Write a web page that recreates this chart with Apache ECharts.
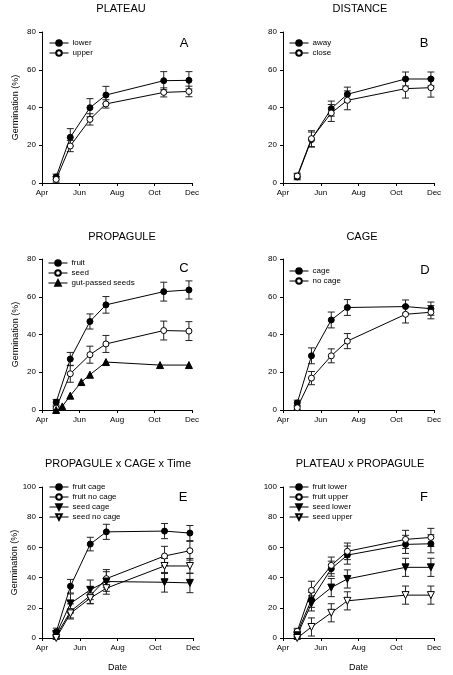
<!DOCTYPE html>
<html><head><meta charset="utf-8">
<script src="https://cdn.jsdelivr.net/npm/echarts@6/dist/echarts.min.js"></script>
<style>html,body{margin:0;padding:0;background:#fff}#c{width:453px;height:675px}</style>
</head><body><div id="c"></div>
<script>
// x positions: days since 1 April
const monthLabels = ['Apr', 'Jun', 'Aug', 'Oct', 'Dec'];
const days = [23, 46, 78, 104, 198, 239];
const gutDays = [23, 33, 46, 64, 78, 104, 192, 239];

// A: PLATEAU
const plateauLower = [3.2, 24.2, 39.9, 46.6, 54.2, 54.4];
const plateauLowerErr = [1.5, 4.6, 4.8, 4.6, 4.8, 4.6];
const plateauUpper = [1.9, 19.6, 33.7, 41.9, 48.0, 48.5];
const plateauUpperErr = [1.5, 3.0, 3.0, 2.2, 2.4, 2.8];
// B: DISTANCE
const distAway = [3.2, 23.0, 39.4, 47.0, 55.1, 55.1];
const distAwayErr = [1.5, 4.0, 4.0, 3.8, 3.7, 3.7];
const distClose = [3.7, 23.5, 37.1, 43.8, 50.0, 50.5];
const distCloseErr = [1.5, 4.2, 4.5, 5.0, 5.0, 5.0];
// C: PROPAGULE
const propFruit = [4.1, 27.0, 46.9, 55.7, 62.7, 63.6];
const propFruitErr = [1.5, 3.5, 4.0, 4.4, 5.0, 4.8];
const propSeed = [1.0, 19.2, 29.3, 35.0, 42.1, 41.8];
const propSeedErr = [1.0, 4.5, 4.5, 4.5, 5.0, 5.0];
const propGut = [0, 1.9, 7.6, 14.8, 18.7, 25.4, 23.8, 23.8];
// D: CAGE
const cageYes = [3.7, 28.7, 47.7, 54.3, 54.8, 53.7];
const cageYesErr = [1.5, 4.2, 4.2, 4.2, 3.5, 3.5];
const cageNo = [1.2, 16.9, 28.7, 36.5, 50.7, 51.8];
const cageNoErr = [1.0, 3.5, 3.7, 4.0, 4.6, 3.5];
// E: PROPAGULE x CAGE x Time
const eFruitCage = [4.0, 34.3, 62.2, 70.3, 70.8, 69.5];
const eFruitCageErr = [2.5, 4.5, 4.5, 5.0, 5.0, 5.0];
const eFruitNoCage = [1.5, 17.6, 28.1, 39.3, 54.3, 57.8];
const eFruitNoCageErr = [2.0, 5.0, 5.5, 6.0, 6.4, 6.2];
const eSeedCage = [2.6, 22.9, 31.9, 37.4, 36.9, 36.5];
const eSeedCageErr = [2.0, 6.3, 6.5, 6.5, 6.5, 6.5];
const eSeedNoCage = [0, 16.3, 26.4, 33.0, 47.7, 47.7];
const eSeedNoCageErr = [1.0, 3.0, 3.5, 4.0, 5.0, 5.0];
// F: PLATEAU x PROPAGULE
const fFruitLower = [3.3, 25.3, 45.9, 54.9, 62.0, 62.4];
const fFruitLowerErr = [2.0, 5.0, 5.0, 6.0, 6.0, 6.0];
const fFruitUpper = [4.4, 31.6, 48.1, 57.4, 65.3, 66.6];
const fFruitUpperErr = [2.0, 6.0, 5.5, 5.5, 6.0, 6.0];
const fSeedLower = [1.8, 22.9, 33.4, 39.1, 46.8, 46.8];
const fSeedLowerErr = [1.5, 5.0, 6.0, 6.0, 6.0, 6.0];
const fSeedUpper = [0, 7.3, 16.7, 24.6, 28.4, 28.4];
const fSeedUpperErr = [1.0, 6.0, 6.0, 6.0, 6.0, 6.0];

const FONT = 'Liberation Sans, Arial, sans-serif';
const chart = echarts.init(document.getElementById('c'), null, {renderer: 'canvas'});

const grids = [
  {left: 42, top: 32, width: 150, height: 151},
  {left: 283, top: 32, width: 151, height: 151},
  {left: 42, top: 259, width: 150, height: 151},
  {left: 283, top: 259, width: 151, height: 151},
  {left: 42, top: 487, width: 151, height: 151},
  {left: 283, top: 487, width: 151, height: 151}
];
const yMax = [80, 80, 80, 80, 100, 100];

const axisCommon = {
  axisLine: {show: true, lineStyle: {color: '#000', width: 1}},
  axisTick: {show: true, inside: false, length: 3, lineStyle: {color: '#000', width: 1}},
  splitLine: {show: false},
  nameTextStyle: {color: '#000', fontSize: 9, fontFamily: FONT}
};
const xAxes = grids.map((g, i) => Object.assign({}, axisCommon, {
  type: 'value', gridIndex: i, min: 0, max: 244, interval: 61,
  axisLabel: {color: '#000', fontSize: 8, fontFamily: FONT, margin: 6,
    formatter: v => monthLabels[Math.round(v / 61)]},
  name: i >= 4 ? 'Date' : '', nameLocation: 'middle', nameGap: 25
}));
const yAxes = grids.map((g, i) => Object.assign({}, axisCommon, {
  type: 'value', gridIndex: i, min: 0, max: yMax[i], interval: 20,
  axisLabel: {color: '#000', fontSize: 8, fontFamily: FONT, margin: 6},
  name: i % 2 === 0 ? 'Germination (%)' : '', nameLocation: 'middle', nameGap: 22
}));

function pairs(xs, ys) { return ys.map((v, k) => [xs[k], v]); }
function triples(xs, ys, es) { return ys.map((v, k) => [xs[k], v, es[k]]); }

const FILLED = {color: '#000', borderColor: '#000', borderWidth: 1};
const OPEN = {color: '#fff', borderColor: '#000', borderWidth: 1};
function lineSeries(name, idx, xs, ys, symbol, style, size, rotate) {
  return {
    type: 'line', name: name, xAxisIndex: idx, yAxisIndex: idx,
    data: pairs(xs, ys), symbol: symbol, symbolSize: size || 6, symbolRotate: rotate || 0,
    showAllSymbol: true, itemStyle: style, lineStyle: {color: '#000', width: 1},
    z: 3, animation: false, emphasis: {disabled: true}
  };
}
function errRender(params, api) {
  const x = api.value(0), y = api.value(1), e = api.value(2);
  const hi = api.coord([x, y + e]);
  const lo = api.coord([x, y - e]);
  const w = 3.5;
  const st = {stroke: '#222', lineWidth: 1};
  return {type: 'group', children: [
    {type: 'line', shape: {x1: hi[0], y1: hi[1], x2: lo[0], y2: lo[1]}, style: st},
    {type: 'line', shape: {x1: hi[0] - w, y1: hi[1], x2: hi[0] + w, y2: hi[1]}, style: st},
    {type: 'line', shape: {x1: lo[0] - w, y1: lo[1], x2: lo[0] + w, y2: lo[1]}, style: st}
  ]};
}
function errSeries(idx, xs, ys, es) {
  return {type: 'custom', name: 'err' + idx + '_' + ys[1], xAxisIndex: idx, yAxisIndex: idx,
    data: triples(xs, ys, es), renderItem: errRender, z: 1, animation: false, silent: true,
    encode: {x: 0, y: 1}};
}

const series = [
  errSeries(0, days, plateauLower, plateauLowerErr),
  errSeries(0, days, plateauUpper, plateauUpperErr),
  lineSeries('lower', 0, days, plateauLower, 'circle', FILLED),
  lineSeries('upper', 0, days, plateauUpper, 'circle', OPEN),

  errSeries(1, days, distAway, distAwayErr),
  errSeries(1, days, distClose, distCloseErr),
  lineSeries('away', 1, days, distAway, 'circle', FILLED),
  lineSeries('close', 1, days, distClose, 'circle', OPEN),

  errSeries(2, days, propFruit, propFruitErr),
  errSeries(2, days, propSeed, propSeedErr),
  lineSeries('fruit', 2, days, propFruit, 'circle', FILLED),
  lineSeries('seed', 2, days, propSeed, 'circle', OPEN),
  lineSeries('gut-passed seeds', 2, gutDays, propGut, 'triangle', FILLED, 7),

  errSeries(3, days, cageYes, cageYesErr),
  errSeries(3, days, cageNo, cageNoErr),
  lineSeries('cage', 3, days, cageYes, 'circle', FILLED),
  lineSeries('no cage', 3, days, cageNo, 'circle', OPEN),

  errSeries(4, days, eFruitCage, eFruitCageErr),
  errSeries(4, days, eFruitNoCage, eFruitNoCageErr),
  errSeries(4, days, eSeedCage, eSeedCageErr),
  errSeries(4, days, eSeedNoCage, eSeedNoCageErr),
  lineSeries('fruit cage', 4, days, eFruitCage, 'circle', FILLED),
  lineSeries('fruit no cage', 4, days, eFruitNoCage, 'circle', OPEN),
  lineSeries('seed cage', 4, days, eSeedCage, 'triangle', FILLED, 7, 180),
  lineSeries('seed no cage', 4, days, eSeedNoCage, 'triangle', OPEN, 7, 180),

  errSeries(5, days, fFruitLower, fFruitLowerErr),
  errSeries(5, days, fFruitUpper, fFruitUpperErr),
  errSeries(5, days, fSeedLower, fSeedLowerErr),
  errSeries(5, days, fSeedUpper, fSeedUpperErr),
  lineSeries('fruit lower', 5, days, fFruitLower, 'circle', FILLED),
  lineSeries('fruit upper', 5, days, fFruitUpper, 'circle', OPEN),
  lineSeries('seed lower', 5, days, fSeedLower, 'triangle', FILLED, 7, 180),
  lineSeries('seed upper', 5, days, fSeedUpper, 'triangle', OPEN, 7, 180)
];

function legend(names, left, top) {
  return {data: names, orient: 'vertical', left: left, top: top, padding: 0,
    itemWidth: 19, itemHeight: 7, itemGap: 0, selectedMode: false,
    lineStyle: {width: 1, color: '#000'},
    textStyle: {color: '#000', fontSize: 8, fontFamily: FONT, lineHeight: 10, padding: [0, 0, 0, -1]}};
}
const legends = [
  legend(['lower', 'upper'], 49, 38),
  legend(['away', 'close'], 289, 38),
  legend(['fruit', 'seed', 'gut-passed seeds'], 48, 258),
  legend(['cage', 'no cage'], 289, 266),
  legend(['fruit cage', 'fruit no cage', 'seed cage', 'seed no cage'], 49, 482),
  legend(['fruit lower', 'fruit upper', 'seed lower', 'seed upper'], 289, 482)
];

function txt(text, x, y, size) {
  return {type: 'text', x: x, y: y, silent: true,
    style: {text: text, fill: '#000', font: size + 'px ' + FONT,
      align: 'center', verticalAlign: 'middle', textAlign: 'center', textVerticalAlign: 'middle'}};
}
const graphics = [
  txt('PLATEAU', 121, 9, 11),
  txt('DISTANCE', 360, 9, 11),
  txt('PROPAGULE', 122, 237, 11),
  txt('CAGE', 362, 237, 11),
  txt('PROPAGULE x CAGE x Time', 118, 464, 11),
  txt('PLATEAU x PROPAGULE', 360, 464, 11),
  txt('A', 184, 43, 13),
  txt('B', 424, 43, 13),
  txt('C', 184, 268, 13),
  txt('D', 425, 270, 13),
  txt('E', 183, 497, 13),
  txt('F', 424, 497, 13)
];

chart.setOption({
  animation: false,
  backgroundColor: '#fff',
  grid: grids,
  xAxis: xAxes,
  yAxis: yAxes,
  legend: legends,
  series: series,
  graphic: graphics
});
</script>
</body></html>
